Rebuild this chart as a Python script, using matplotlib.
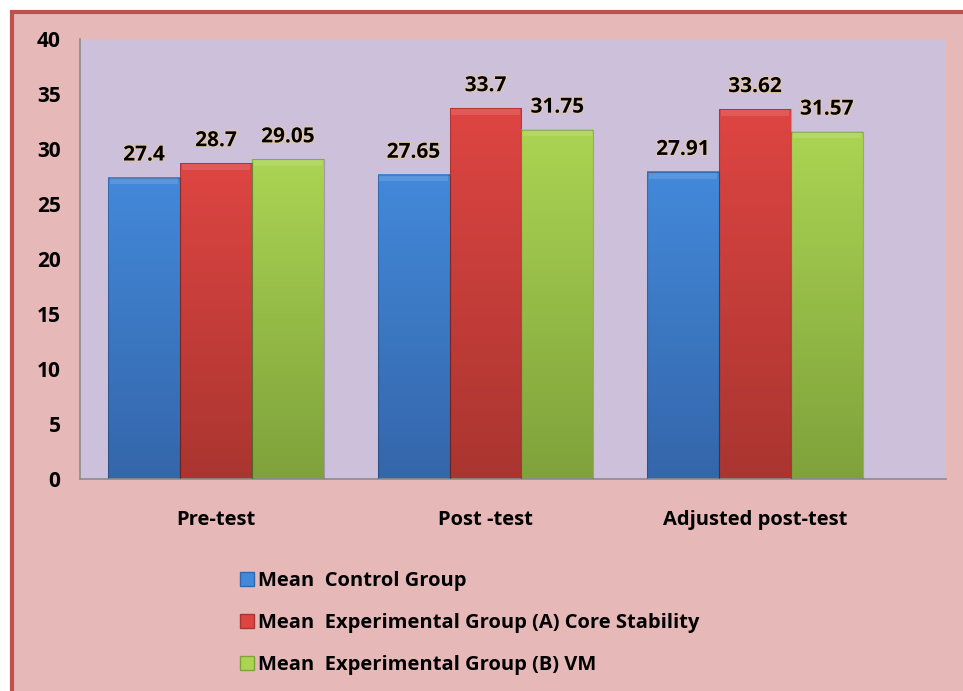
import numpy as np
import matplotlib.pyplot as plt
from matplotlib.patches import Rectangle
from matplotlib.colors import LinearSegmentedColormap
import matplotlib.patheffects as pe

plt.rcParams['font.family'] = ['Open Sans', 'DejaVu Sans']
plt.rcParams['font.weight'] = 'bold'

categories = ['Pre-test', 'Post -test', 'Adjusted post-test']
series_names = ['Mean  Control Group',
                'Mean  Experimental Group (A) Core Stability',
                'Mean  Experimental Group (B) VM']
control = [27.4, 27.65, 27.91]
group_a = [28.7, 33.7, 33.62]
group_b = [29.05, 31.75, 31.57]
value_labels = [['27.4', '27.65', '27.91'],
                ['28.7', '33.7', '33.62'],
                ['29.05', '31.75', '31.57']]

# (top, bottom) shades for each series
shades = [('#4389DA', '#3466AA'),
          ('#DE4542', '#AA3530'),
          ('#ABD453', '#7FA23B')]

fig = plt.figure(figsize=(9.63, 6.91), dpi=100)
fig.patch.set_facecolor('white')

# pink chart area with red frame
fig.patches.append(Rectangle((12 / 963, -0.05), 1.1, (691 - 12) / 691 + 0.05,
                             transform=fig.transFigure, facecolor='#E6B8B7',
                             edgecolor='#C0504D', linewidth=3, zorder=-5))

ax = fig.add_axes([80 / 963, 1 - 479 / 691, 866 / 963, 440 / 691])
ax.set_facecolor('#CCC0DA')
ax.set_zorder(1)

x = np.arange(len(categories))
width = 0.267
data = [control, group_a, group_b]

for i, vals in enumerate(data):
    cmap = LinearSegmentedColormap.from_list('s%d' % i, [shades[i][0], shades[i][1]])
    grad = np.linspace(0, 1, 256).reshape(-1, 1)
    for j, v in enumerate(vals):
        left = x[j] + (i - 1) * width - width / 2
        ax.imshow(grad, cmap=cmap, aspect='auto', extent=(left, left + width, 0, v),
                  origin='upper', zorder=2)
        ax.add_patch(Rectangle((left, 0), width, v, facecolor='none',
                               edgecolor=(0, 0, 0, 0.2), linewidth=0.8, zorder=3))
        # bevel on top of the bar
        ax.add_patch(Rectangle((left + 0.006, v - 0.6), width - 0.012, 0.55,
                               facecolor='white', alpha=0.12, linewidth=0, zorder=3))
        ax.text(x[j] + (i - 1) * width, v + 1.1, value_labels[i][j], ha='center',
                va='bottom', fontsize=15, fontweight='bold', color='black', zorder=4,
                path_effects=[pe.withStroke(linewidth=1.5, foreground='#E8C9A8')])

ax.set_xlim(-0.505, 2.709)
ax.set_ylim(0, 40)
ax.set_yticks(range(0, 41, 5))
ax.set_xticks(x)
ax.set_xticklabels(categories)
ax.tick_params(axis='y', length=0, pad=14, labelsize=15)
ax.tick_params(axis='x', length=0, pad=22, labelsize=14.5)
for s in ['top', 'right']:
    ax.spines[s].set_visible(False)
for s in ['left', 'bottom']:
    ax.spines[s].set_color('#8C8C8C')
    ax.spines[s].set_linewidth(1.2)

handles = [Rectangle((0, 0), 1, 1, facecolor=shades[i][0], edgecolor=shades[i][1])
           for i in range(3)]
fig.legend(handles, series_names, loc='upper left',
           bbox_to_anchor=(222 / 963, 1 - 553 / 691), frameon=False,
           fontsize=14.5, handlelength=0.7, handleheight=0.7,
           handletextpad=0.2, labelspacing=1.1)

fig.savefig('out.png', dpi=100, facecolor=fig.get_facecolor())
